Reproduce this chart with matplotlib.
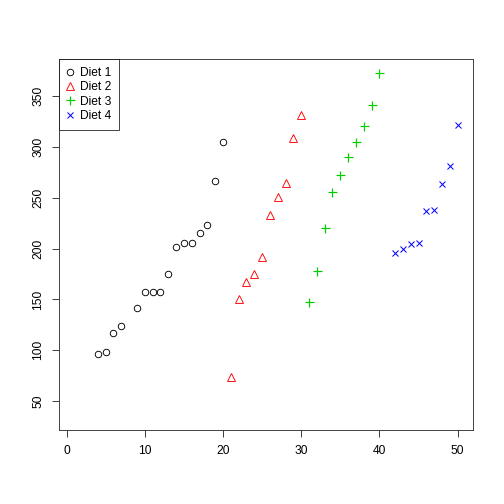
import matplotlib
matplotlib.use("Agg")
import matplotlib.pyplot as plt

# final weights (day 21) by chick position, one group per diet
diet1_x = [4, 5, 6, 7, 9, 10, 11, 12, 13, 14, 15, 16, 17, 18, 19, 20]
diet1_y = [96, 98, 117, 124, 142, 157, 157, 157, 175, 202, 205, 205, 215, 223, 266, 305]
diet2_x = [21, 22, 23, 24, 25, 26, 27, 28, 29, 30]
diet2_y = [74, 150, 167, 175, 192, 233, 251, 265, 309, 331]
diet3_x = [31, 32, 33, 34, 35, 36, 37, 38, 39, 40]
diet3_y = [147, 178, 220, 256, 272, 290, 305, 321, 341, 373]
diet4_x = [42, 43, 44, 45, 46, 47, 48, 49, 50]
diet4_y = [196, 200, 204, 205, 237, 238, 264, 281, 322]
labels = ["Diet 1", "Diet 2", "Diet 3", "Diet 4"]

plt.rcParams['font.family'] = ['Liberation Sans', 'DejaVu Sans']

fig = plt.figure(figsize=(7, 7), dpi=72)
ax = fig.add_axes([59/504, 1 - 430/504, (473-59)/504, (430-59)/504])

ax.plot(diet1_x, diet1_y, 'o', mfc='none', mec='black', ms=6.5, mew=0.9, label=labels[0])
ax.plot(diet2_x, diet2_y, '^', mfc='none', mec='red', ms=7.5, mew=0.9, label=labels[1])
ax.plot(diet3_x, diet3_y, '+', mec='#00CD00', mfc='#00CD00', ms=9, mew=1.2, label=labels[2])
ax.plot(diet4_x, diet4_y, 'x', mec='blue', mfc='blue', ms=6, mew=1.0, label=labels[3])

# R-style 4% padding around full data range (x 1..50, y 35..373)
xr = (1, 50)
yr = (35, 373)
px = (xr[1] - xr[0]) * 0.04
py = (yr[1] - yr[0]) * 0.04
ax.set_xlim(xr[0] - px, xr[1] + px)
ax.set_ylim(yr[0] - py, yr[1] + py)

ax.set_xticks([0, 10, 20, 30, 40, 50])
ax.set_yticks([50, 100, 150, 200, 250, 300, 350])
ax.tick_params(direction='out', length=7, width=0.75, labelsize=12, pad=8, color='black')
for lab in ax.get_yticklabels():
    lab.set_rotation(90)
    lab.set_va('center')
for s in ax.spines.values():
    s.set_linewidth(0.9)
    s.set_color('#333333')

leg = ax.legend(loc='upper left', fontsize=12, frameon=True, fancybox=False,
                borderaxespad=0, handletextpad=0.55, handlelength=0.55,
                labelspacing=0.2, borderpad=0.65, edgecolor='black')
leg.get_frame().set_linewidth(0.9)

fig.savefig("out.png", dpi=72)
